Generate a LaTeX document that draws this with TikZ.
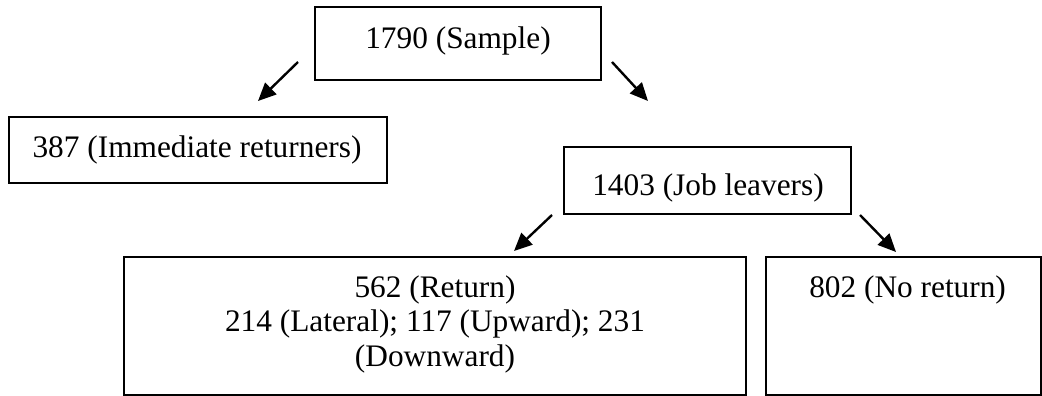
\documentclass[tikz,border=0pt]{standalone}
\usepackage{fontspec}
\setmainfont{Liberation Serif}
\usetikzlibrary{arrows.meta}
\begin{document}
\begin{tikzpicture}[x=0.75pt,y=-0.75pt,
  box/.style={draw=black, line width=1.5pt, inner sep=0pt, rectangle},
  txt/.style={inner sep=0pt, font=\fontsize{23.5}{28}\selectfont},
  arr/.style={line width=1.8pt, -{Triangle[length=13.5pt,width=12pt]}}]
\useasboundingbox (0,0) rectangle (1042,396);
% boxes
\node[box, minimum width=214.5pt, minimum height=54.75pt] (top) at (458,43.5) {};
\node[box, minimum width=283.5pt, minimum height=49.5pt] (imm) at (198,150) {};
\node[box, minimum width=215.25pt, minimum height=50.25pt] (job) at (707.5,180.5) {};
\node[box, minimum width=466.5pt, minimum height=103.5pt] (ret) at (435,326) {};
\node[box, minimum width=206.25pt, minimum height=103.5pt] (nor) at (903.5,326) {};
% texts
\node[txt, anchor=base] (ttop) at (458,48) {1790 (Sample)};
\node[txt, anchor=base] (timm) at (197,157) {387 (Immediate returners)};
\node[txt, anchor=base] (tjob) at (708,195) {1403 (Job leavers)};
\node[txt, anchor=base] (tret1) at (435,297) {562 (Return)};
\node[txt, anchor=base] (tret2) at (435,331.5) {214 (Lateral); 117 (Upward); 231};
\node[txt, anchor=base] (tret3) at (435,366) {(Downward)};
\node[txt, anchor=base west] (tnor) at (809,297) {802 (No return)};
% arrow endpoints
\coordinate (a1s) at (298,62);
\coordinate (a1e) at (258,101);
\coordinate (a2s) at (612,62);
\coordinate (a2e) at (648,101);
\coordinate (a3s) at (552,215);
\coordinate (a3e) at (514,251);
\coordinate (a4s) at (860,215);
\coordinate (a4e) at (896,252);
\draw[arr] (a1s) -- (a1e);
\draw[arr] (a2s) -- (a2e);
\draw[arr] (a3s) -- (a3e);
\draw[arr] (a4s) -- (a4e);
\end{tikzpicture}
\end{document}
